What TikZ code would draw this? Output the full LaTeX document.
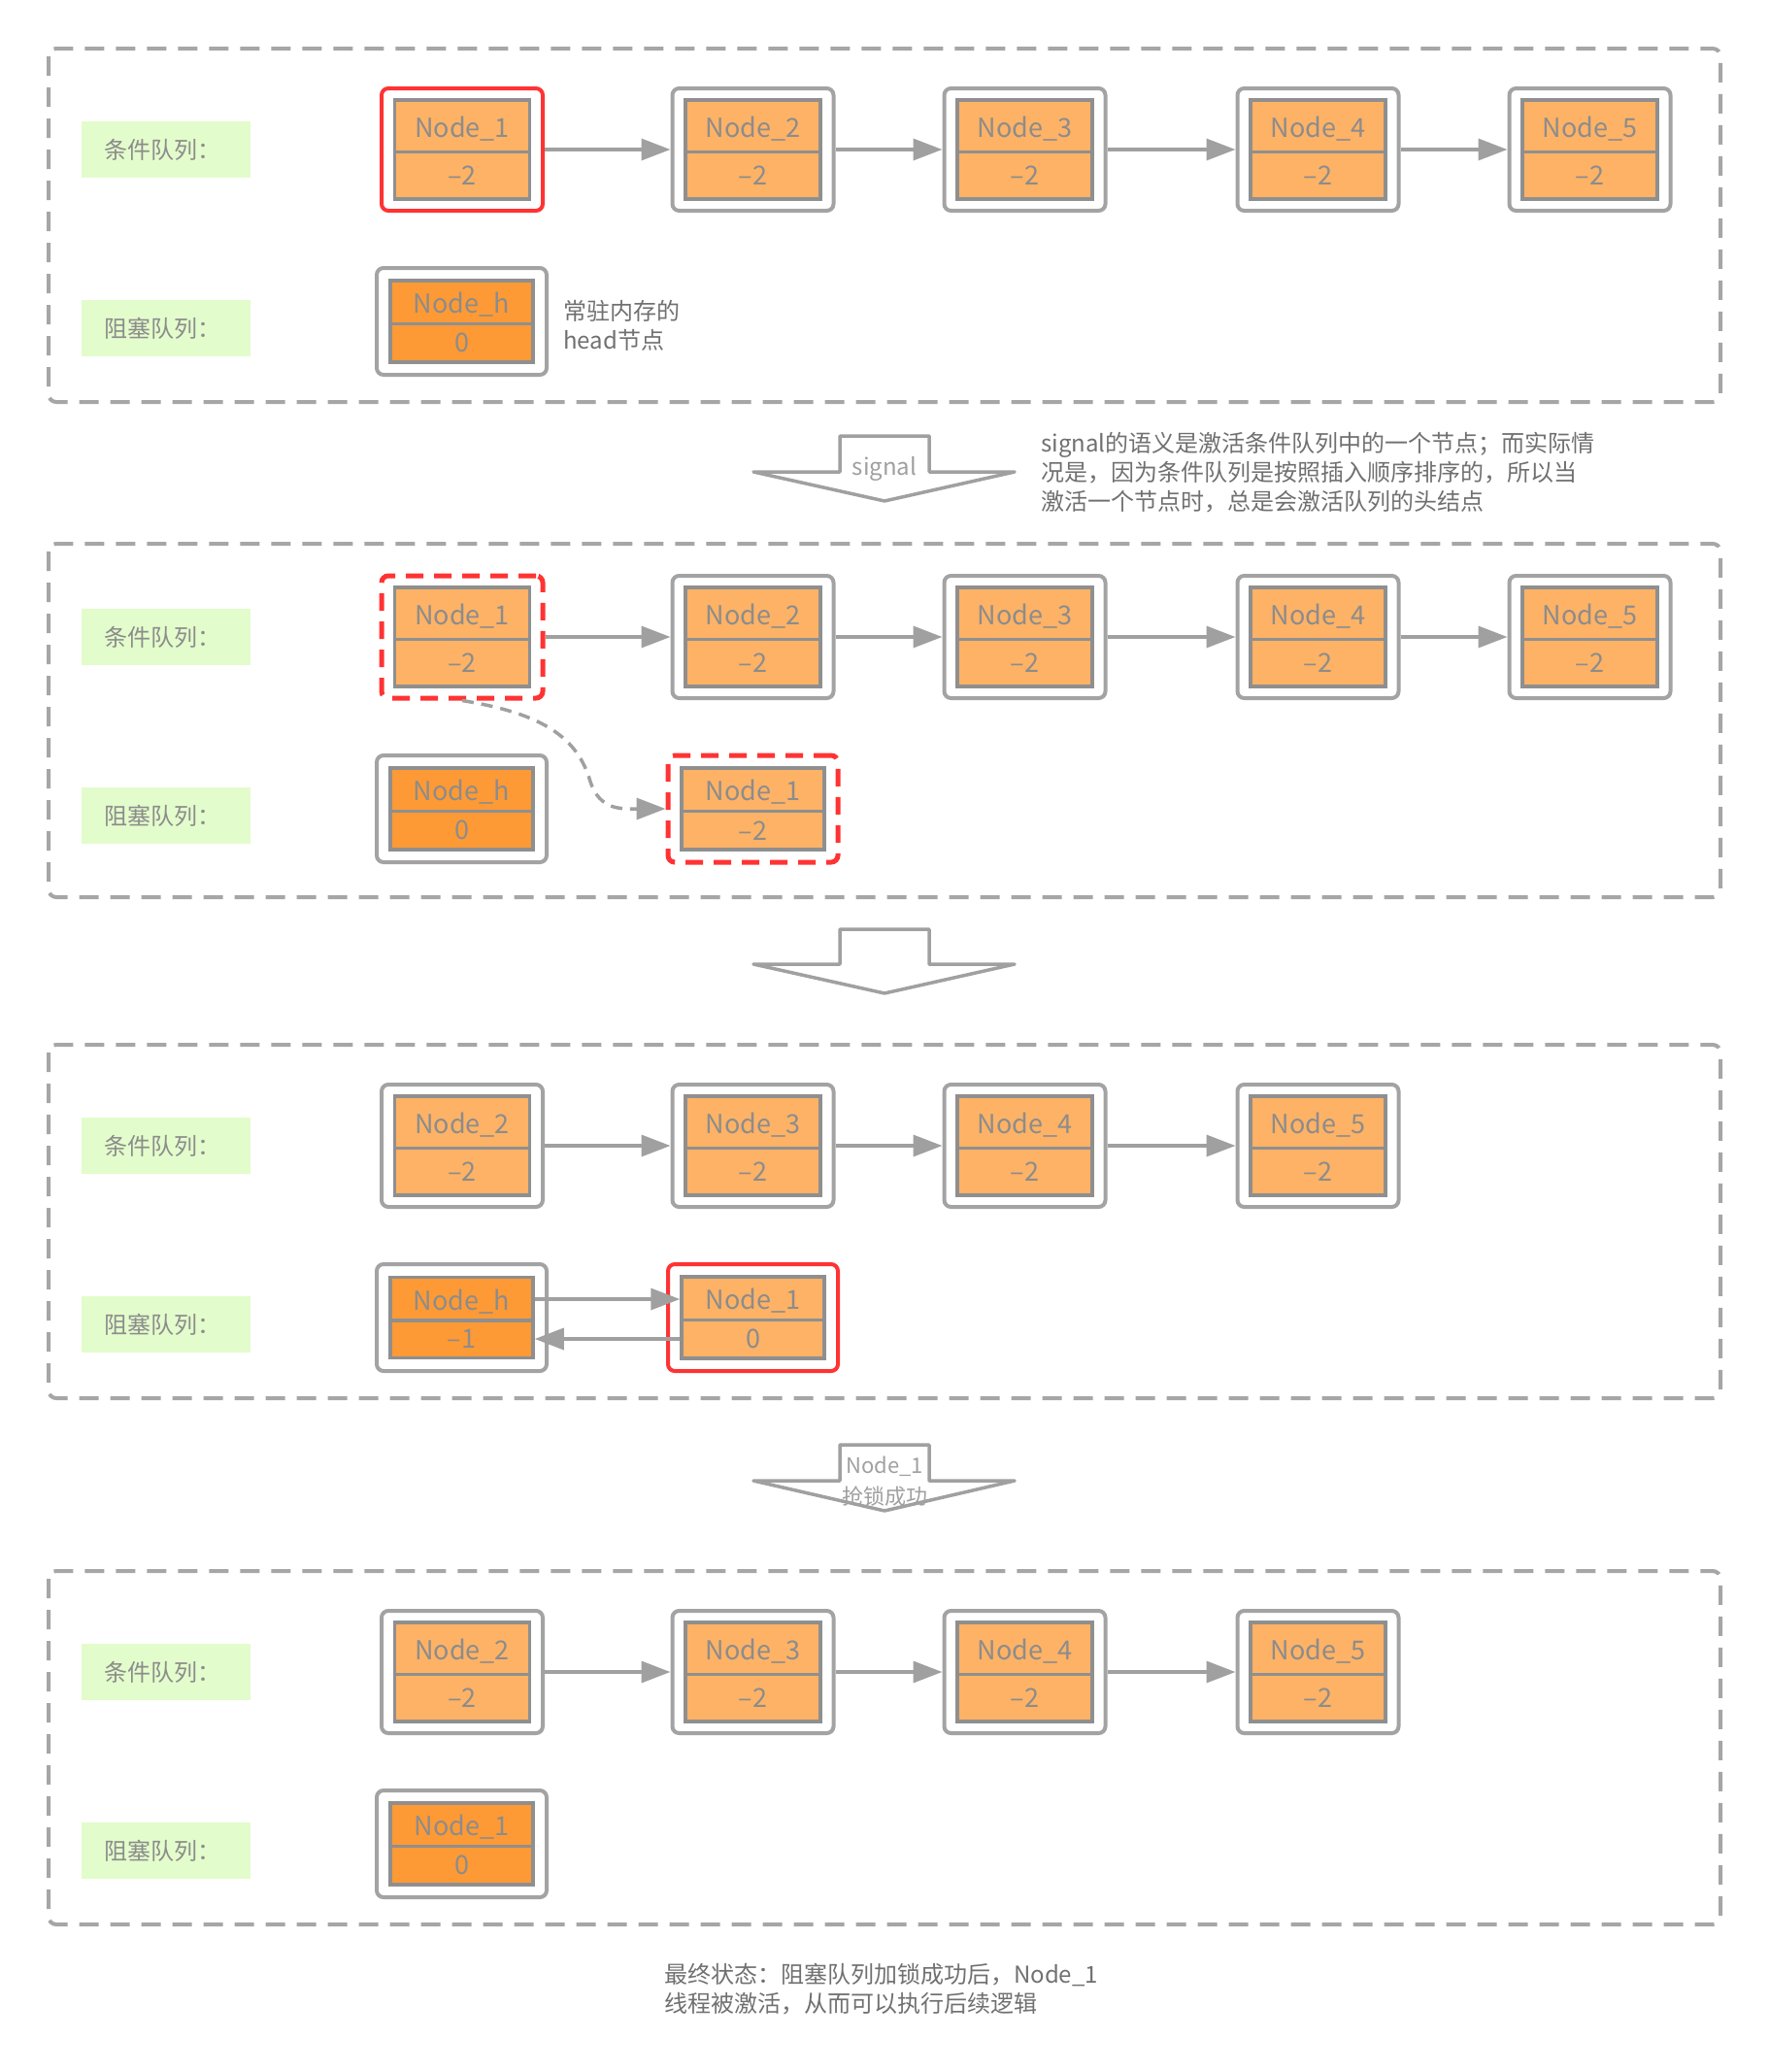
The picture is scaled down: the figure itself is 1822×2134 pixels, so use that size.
\documentclass[tikz,border=0pt]{standalone}
\usepackage{fontspec}
\setmainfont{Noto Sans CJK SC}
\usepackage{tikz}
\usetikzlibrary{arrows.meta, shapes.multipart}

\definecolor{framegray}{HTML}{A6A6A6}
\definecolor{shellgray}{HTML}{A3A3A3}
\definecolor{cellgray}{HTML}{8F8F8F}
\definecolor{linkgray}{HTML}{A0A0A0}
\definecolor{textgray}{HTML}{8C8C8C}
\definecolor{notegray}{HTML}{707070}
\definecolor{lightorange}{HTML}{FDB266}
\definecolor{darkorange}{HTML}{FD9A35}
\definecolor{hotred}{HTML}{FF3333}
\definecolor{taggreen}{HTML}{E3FCCB}

\begin{document}
\begin{tikzpicture}[x=1pt, y=-1pt, font=\fontsize{24pt}{30pt}\selectfont]
    % Define styles
    \tikzstyle{frame} = [draw=framegray, line width=4pt, dash pattern=on 20pt off 12pt, rounded corners=8pt]
    \tikzstyle{tag} = [anchor=west, fill=taggreen, text=textgray, minimum height=58pt, text width=128pt, inner xsep=23pt, align=left]
    \tikzstyle{shell} = [rectangle, draw=shellgray, line width=4pt, rounded corners=7pt, fill=white, minimum width=166pt, minimum height=126pt]
    \tikzstyle{hshell} = [shell, minimum width=175pt, minimum height=110pt]
    \tikzstyle{cell} = [rectangle split, rectangle split parts=2, draw=cellgray, line width=3.5pt, fill=lightorange, text=textgray, font=\fontsize{27pt}{30pt}\selectfont, minimum width=139pt, text height=24pt, text depth=1pt, inner ysep=12.5pt, align=center]
    \tikzstyle{hcell} = [cell, minimum width=147pt, inner ysep=8pt]
    \tikzstyle{head} = [hcell, fill=darkorange]
    \tikzstyle{picked} = [draw=hotred]
    \tikzstyle{moved} = [draw=hotred, line width=5pt, dash pattern=on 18pt off 11pt]
    \tikzstyle{link} = [draw=linkgray, line width=3.5pt, -{Triangle[length=30pt, width=22pt]}]
    \tikzstyle{hollow} = [draw=linkgray, line width=3.5pt, fill=white, line join=round]
    \tikzstyle{note} = [text=notegray, inner sep=0pt, align=left, anchor=west]

    \useasboundingbox (0,0) rectangle (1822,2134);

    % Frames
    \draw [frame] (50,50) rectangle (1772,414);
    \draw [frame] (50,560) rectangle (1772,924);
    \draw [frame] (50,1076) rectangle (1772,1440);
    \draw [frame] (50,1618) rectangle (1772,1982);

    % Big arrows between the frames
    \draw [hollow] (776,486) -- (865,486) -- (865,449) -- (957,449) -- (957,486) -- (1045,486) -- (911,516) -- cycle;
    \draw [hollow] (776,993) -- (865,993) -- (865,957) -- (957,957) -- (957,993) -- (1045,993) -- (911,1023) -- cycle;
    \draw [hollow] (776,1525) -- (865,1525) -- (865,1488) -- (957,1488) -- (957,1525) -- (1045,1525) -- (911,1556) -- cycle;
    \node (signal) [text=linkgray, inner sep=0pt] at (911,483) {signal};
    \node (grab) [text=linkgray, inner sep=0pt, align=center, font=\fontsize{22pt}{32pt}\selectfont] at (911,1526) {Node\_1\\抢锁成功};

    % Frame 1
    \node (cond1) [tag] at (84,154) {条件队列：};
    \node (block1) [tag] at (84,338) {阻塞队列：};
    \node (q11) [shell, picked] at (476,154) {};
    \node (q11-in) [cell] at (q11) {Node\_1\nodepart{second}–2};
    \node (q12) [shell] at (775.5,154) {};
    \node (q12-in) [cell] at (q12) {Node\_2\nodepart{second}–2};
    \node (q13) [shell] at (1055.5,154) {};
    \node (q13-in) [cell] at (q13) {Node\_3\nodepart{second}–2};
    \node (q14) [shell] at (1357.5,154) {};
    \node (q14-in) [cell] at (q14) {Node\_4\nodepart{second}–2};
    \node (q15) [shell] at (1637.5,154) {};
    \node (q15-in) [cell] at (q15) {Node\_5\nodepart{second}–2};
    \node (b1h) [hshell] at (475.5,331) {};
    \node (b1h-in) [head] at (b1h) {Node\_h\nodepart{second}0};
    \node (headnote) [note] at (580,335) {常驻内存的\\head节点};

    % Frame 2
    \node (cond2) [tag] at (84,656) {条件队列：};
    \node (block2) [tag] at (84,840) {阻塞队列：};
    \node (q21) [shell, moved] at (476,656) {};
    \node (q21-in) [cell] at (q21) {Node\_1\nodepart{second}–2};
    \node (q22) [shell] at (775.5,656) {};
    \node (q22-in) [cell] at (q22) {Node\_2\nodepart{second}–2};
    \node (q23) [shell] at (1055.5,656) {};
    \node (q23-in) [cell] at (q23) {Node\_3\nodepart{second}–2};
    \node (q24) [shell] at (1357.5,656) {};
    \node (q24-in) [cell] at (q24) {Node\_4\nodepart{second}–2};
    \node (q25) [shell] at (1637.5,656) {};
    \node (q25-in) [cell] at (q25) {Node\_5\nodepart{second}–2};
    \node (b2h) [hshell] at (475.5,833) {};
    \node (b2h-in) [head] at (b2h) {Node\_h\nodepart{second}0};
    \node (b21) [hshell, moved] at (775.5,833) {};
    \node (b21-in) [hcell] at (b21) {Node\_1\nodepart{second}–2};

    % Frame 3
    \node (cond3) [tag] at (84,1180) {条件队列：};
    \node (block3) [tag] at (84,1364) {阻塞队列：};
    \node (q32) [shell] at (476,1180) {};
    \node (q32-in) [cell] at (q32) {Node\_2\nodepart{second}–2};
    \node (q33) [shell] at (775.5,1180) {};
    \node (q33-in) [cell] at (q33) {Node\_3\nodepart{second}–2};
    \node (q34) [shell] at (1055.5,1180) {};
    \node (q34-in) [cell] at (q34) {Node\_4\nodepart{second}–2};
    \node (q35) [shell] at (1357.5,1180) {};
    \node (q35-in) [cell] at (q35) {Node\_5\nodepart{second}–2};
    \node (b3h) [hshell] at (475.5,1357) {};
    \node (b3h-in) [head] at (b3h) {Node\_h\nodepart{second}–1};
    \node (b31) [hshell, picked] at (775.5,1357) {};
    \node (b31-in) [hcell] at (b31) {Node\_1\nodepart{second}0};

    % Frame 4
    \node (cond4) [tag] at (84,1722) {条件队列：};
    \node (block4) [tag] at (84,1906) {阻塞队列：};
    \node (q42) [shell] at (476,1722) {};
    \node (q42-in) [cell] at (q42) {Node\_2\nodepart{second}–2};
    \node (q43) [shell] at (775.5,1722) {};
    \node (q43-in) [cell] at (q43) {Node\_3\nodepart{second}–2};
    \node (q44) [shell] at (1055.5,1722) {};
    \node (q44-in) [cell] at (q44) {Node\_4\nodepart{second}–2};
    \node (q45) [shell] at (1357.5,1722) {};
    \node (q45-in) [cell] at (q45) {Node\_5\nodepart{second}–2};
    \node (b41) [hshell] at (475.5,1899) {};
    \node (b41-in) [head] at (b41) {Node\_1\nodepart{second}0};

    % Notes
    \node (signalnote) [note] at (1072,487) {signal的语义是激活条件队列中的一个节点；而实际情\\况是，因为条件队列是按照插入顺序排序的，所以当\\激活一个节点时，总是会激活队列的头结点};
    \node (endnote) [note] at (684,2049) {最终状态：阻塞队列加锁成功后，Node\_1\\线程被激活，从而可以执行后续逻辑};

    % Arrows
    \draw [link] (q11) -- (q12);
    \draw [link] (q12) -- (q13);
    \draw [link] (q13) -- (q14);
    \draw [link] (q14) -- (q15);
    \draw [link] (q21) -- (q22);
    \draw [link] (q22) -- (q23);
    \draw [link] (q23) -- (q24);
    \draw [link] (q24) -- (q25);
    \draw [link, dash pattern=on 12pt off 8pt] (q21.south) .. controls (560,735) and (595,760) .. (608,805) .. controls (618,835) and (640,833) .. (b21.west);
    \draw [link] (q32) -- (q33);
    \draw [link] (q33) -- (q34);
    \draw [link] (q34) -- (q35);
    \draw [link] ([yshift=19pt]b3h-in.east) -- ([yshift=19pt]b31-in.west);
    \draw [link] ([yshift=-22pt]b31-in.west) -- ([yshift=-22pt]b3h-in.east);
    \draw [link] (q42) -- (q43);
    \draw [link] (q43) -- (q44);
    \draw [link] (q44) -- (q45);
\end{tikzpicture}
\end{document}
